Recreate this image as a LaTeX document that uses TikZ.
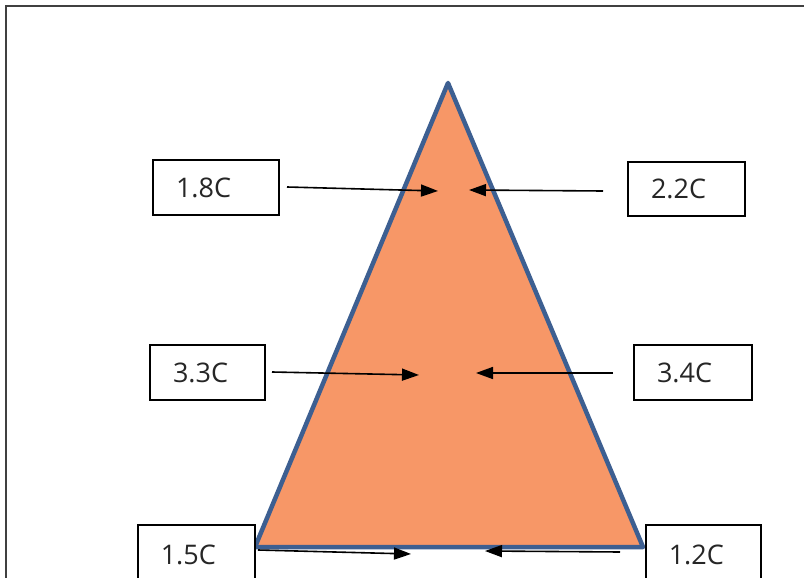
\documentclass[tikz,border=0pt]{standalone}
\usepackage{fontspec}
\setmainfont{Open Sans}
\usetikzlibrary{arrows.meta}
\definecolor{triFill}{HTML}{F79767}
\definecolor{triLine}{HTML}{3D5F91}
\begin{document}
\begin{tikzpicture}[x=1pt,y=-1pt,
  lbl/.style={draw=black,line width=1.5pt,fill=white,inner ysep=0pt,inner xsep=23pt,
    align=left,font=\fontsize{27}{30}\selectfont,text=black!85},
  arr/.style={line width=1.6pt,-{Triangle[length=17pt,width=12pt]}}]
\useasboundingbox (0,0) rectangle (804,578);
\clip (0,0) rectangle (804,578);
% outer frame
\draw[line width=1.8pt,black!75] (6,6) rectangle (820,600);
% triangle
\coordinate (apex) at (448,83);
\coordinate (bl) at (255,547);
\coordinate (br) at (643,547);
\draw[triLine,fill=triFill,line width=4.5pt,line join=round] (apex) -- (br) -- (bl) -- cycle;
% boxes
\node[lbl,text width=80pt,minimum height=55pt] (b18) at (216,187.5) {\raisebox{-5pt}{1.8C}};
\node[lbl,text width=71pt,minimum height=54pt] (b22) at (686.5,189) {\raisebox{-5pt}{2.2C}};
\node[lbl,text width=69pt,minimum height=55pt] (b33) at (207.5,372.5) {\raisebox{-5pt}{3.3C}};
\node[lbl,text width=72pt,minimum height=55pt] (b34) at (693,372.5) {\raisebox{-5pt}{3.4C}};
\node[lbl,text width=71pt,minimum height=60pt,anchor=north west] (b15) at (137,524) {\raisebox{-9pt}{1.5C}};
\node[lbl,text width=69pt,minimum height=60pt,anchor=north west] (b12) at (645,524) {\raisebox{-9pt}{1.2C}};
% arrow endpoints
\coordinate (s18) at (287,187); \coordinate (t18) at (438,191);
\coordinate (s22) at (603,191); \coordinate (t22) at (469,190);
\coordinate (s33) at (272,372); \coordinate (t33) at (419,375);
\coordinate (s34) at (613,373); \coordinate (t34) at (476,373);
\coordinate (s15) at (258,550); \coordinate (t15) at (411,554);
\coordinate (s12) at (620,552); \coordinate (t12) at (485,551);
\draw[arr] (s18) -- (t18);
\draw[arr] (s22) -- (t22);
\draw[arr] (s33) -- (t33);
\draw[arr] (s34) -- (t34);
\draw[arr] (s15) -- (t15);
\draw[arr] (s12) -- (t12);
\end{tikzpicture}
\end{document}
